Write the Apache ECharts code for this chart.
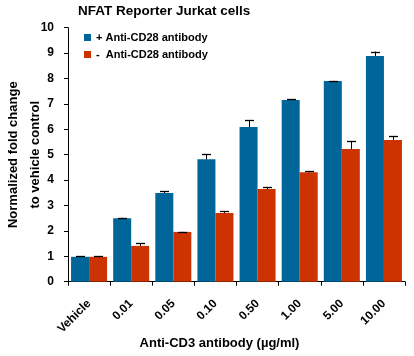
<!DOCTYPE html>
<html>
<head>
<meta charset="utf-8">
<script src="https://cdn.jsdelivr.net/npm/echarts@6/dist/echarts.min.js"></script>
<style>html,body{margin:0;padding:0;background:#fff}#c{width:414px;height:356px}</style>
</head>
<body>
<div id="c"></div>
<script>
var categories = ['Vehicle', '0.01', '0.05', '0.10', '0.50', '1.00', '5.00', '10.00'];
var plusValues = [0.98, 2.50, 3.49, 4.82, 6.09, 7.15, 7.90, 8.89];
var plusErrors = [0.02, 0.02, 0.07, 0.20, 0.26, 0.03, 0.01, 0.17];
var minusValues = [0.98, 1.41, 1.96, 2.70, 3.65, 4.31, 5.22, 5.58];
var minusErrors = [0.02, 0.11, 0.01, 0.07, 0.08, 0.03, 0.31, 0.14];
var seriesNames = ['+ Anti-CD28 antibody', '-  Anti-CD28 antibody'];
var yTicks = [0, 1, 2, 3, 4, 5, 6, 7, 8, 9, 10];

var FONT = '"Liberation Sans", Arial, sans-serif';
var BLUE = '#006699';
var RED = '#CC3300';
var CAT_GAP = 0.145;

function errData(vals, errs) {
  return vals.map(function (v, i) { return [i, v, errs[i]]; });
}
function errRender(side) {
  return function (params, api) {
    var idx = api.value(0);
    var v = api.value(1);
    var e = api.value(2);
    var catW = api.size([1, 0])[0];
    var barW = catW * (1 - CAT_GAP) / 2;
    var base = api.coord([idx, v]);
    var top = api.coord([idx, v + e]);
    var x = Math.round(base[0] + side * barW / 2) + 0.5;
    var cap = 4.5;
    return {
      type: 'group',
      children: [
        { type: 'line', shape: { x1: x, y1: base[1], x2: x, y2: top[1] }, style: { stroke: '#000', lineWidth: 1 } },
        { type: 'line', shape: { x1: x - cap, y1: Math.round(top[1]) + 0.5, x2: x + cap, y2: Math.round(top[1]) + 0.5 }, style: { stroke: '#000', lineWidth: 1.3 } }
      ]
    };
  };
}

var chart = echarts.init(document.getElementById('c'), null, { renderer: 'canvas' });
chart.setOption({
  animation: false,
  title: {
    text: 'NFAT Reporter Jurkat cells',
    left: 78, top: 4, padding: 0,
    textStyle: { fontFamily: FONT, fontWeight: 'bold', fontSize: 13.5, color: '#000' }
  },
  legend: {
    data: seriesNames,
    orient: 'vertical',
    left: 84, top: 32, padding: 0,
    itemWidth: 7, itemHeight: 7, itemGap: 6,
    icon: 'rect',
    textStyle: { fontFamily: FONT, fontWeight: 'bold', fontSize: 11, color: '#000' }
  },
  grid: { left: 68, right: 9, top: 27.7, bottom: 74.3, containLabel: false, outerBoundsMode: 'none' },
  xAxis: {
    type: 'category',
    data: categories,
    name: 'Anti-CD3 antibody (µg/ml)',
    nameLocation: 'middle',
    nameGap: 55,
    nameMoveOverlap: false,
    nameTextStyle: { fontFamily: FONT, fontWeight: 'bold', fontSize: 13, color: '#000', padding: [0, 34, 0, 0] },
    axisLine: { lineStyle: { color: '#000', width: 1 } },
    axisTick: { show: true, alignWithLabel: false, length: 4, lineStyle: { color: '#000' } },
    axisLabel: { rotate: 45, margin: 20, fontFamily: FONT, fontWeight: 'bold', fontSize: 12, color: '#000', interval: 0 }
  },
  yAxis: {
    type: 'value',
    min: yTicks[0], max: yTicks[yTicks.length - 1], interval: 1,
    name: 'Normalized fold change\nto vehicle control',
    nameLocation: 'middle',
    nameRotate: 90,
    nameGap: 22,
    nameMoveOverlap: false,
    nameTextStyle: { fontFamily: FONT, fontWeight: 'bold', fontSize: 13, color: '#000', lineHeight: 22, align: 'center' },
    splitLine: { show: false },
    axisLine: { show: true, lineStyle: { color: '#000', width: 1 } },
    axisTick: { show: true, length: 4, lineStyle: { color: '#000' } },
    axisLabel: { margin: 14, fontFamily: FONT, fontWeight: 'bold', fontSize: 12, color: '#000' }
  },
  series: [
    { name: seriesNames[0], type: 'bar', data: plusValues, barGap: '0%', barCategoryGap: (CAT_GAP * 100) + '%', itemStyle: { color: BLUE }, z: 2 },
    { name: seriesNames[1], type: 'bar', data: minusValues, barGap: '0%', barCategoryGap: (CAT_GAP * 100) + '%', itemStyle: { color: RED }, z: 2 },
    { type: 'custom', renderItem: errRender(-1), data: errData(plusValues, plusErrors), encode: { x: 0, y: 1 }, z: 3, silent: true },
    { type: 'custom', renderItem: errRender(1), data: errData(minusValues, minusErrors), encode: { x: 0, y: 1 }, z: 3, silent: true }
  ]
});
</script>
</body>
</html>
